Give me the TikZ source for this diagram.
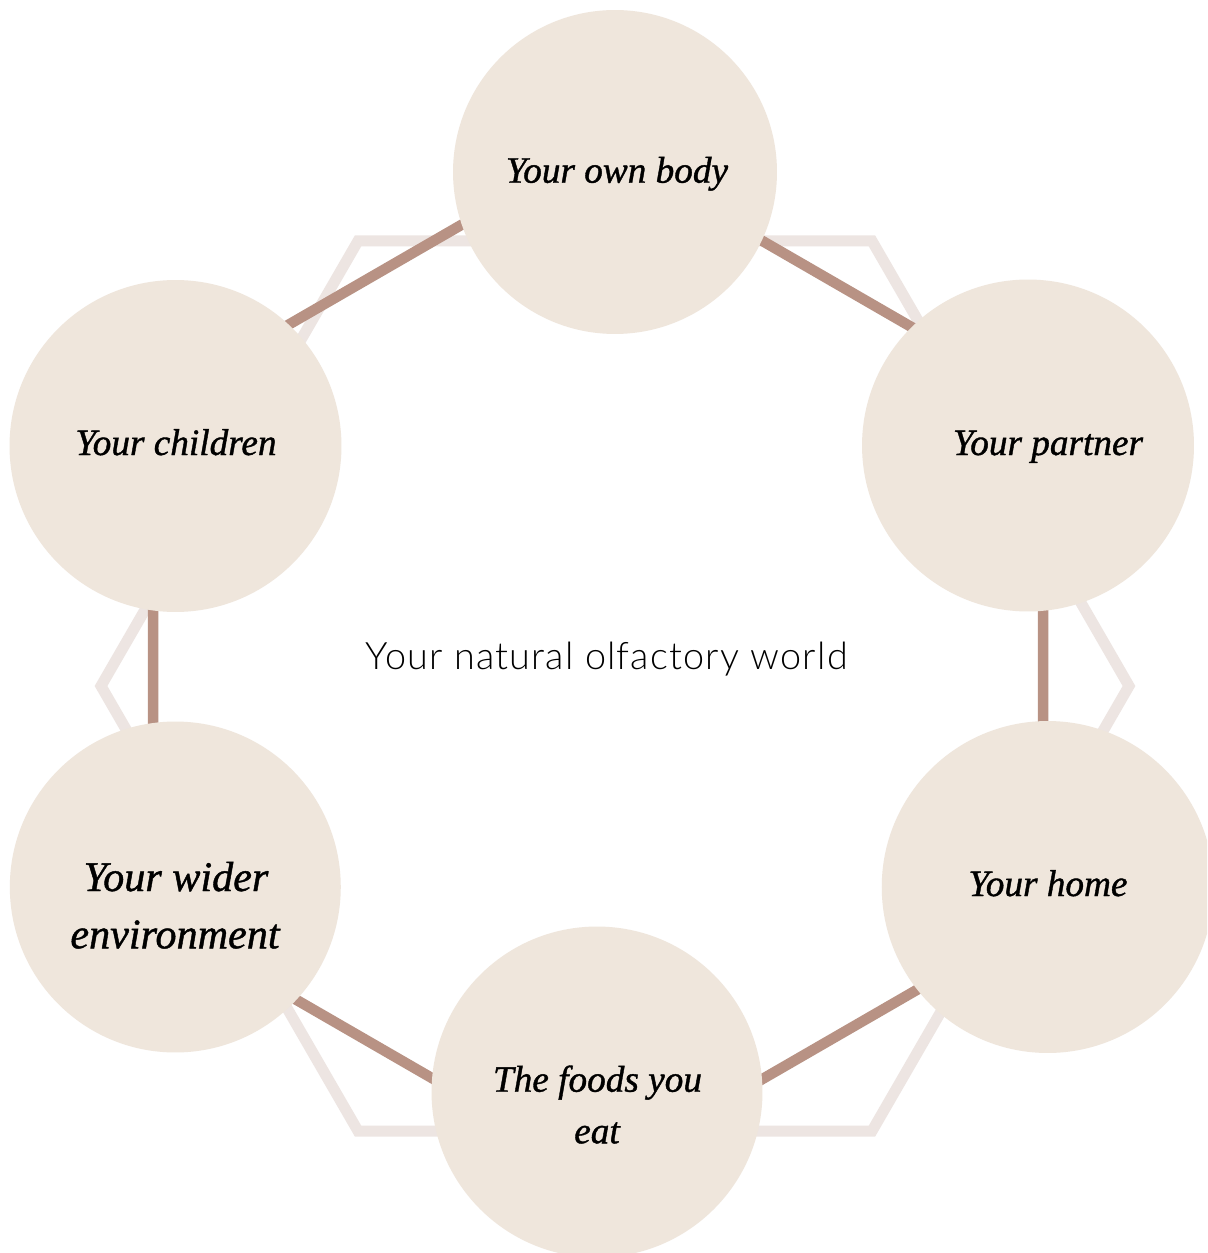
\documentclass[tikz,border=0pt]{standalone}
\usepackage{fontspec}
\newfontfamily\lblfont[ItalicFeatures={FakeBold=1.0}]{Liberation Serif}
\newfontfamily\ctrfont[LetterSpace=3.2]{Lato Light}
\definecolor{circfill}{HTML}{EFE6DC}
\definecolor{brownline}{HTML}{B89284}
\definecolor{lightline}{HTML}{EDE5E2}
\begin{document}
\begin{tikzpicture}[x=0.02cm,y=-0.02cm,
  bubble/.style={circle, fill=circfill, draw=none, inner sep=0pt},
  lbl/.style={font=\lblfont\itshape\fontsize{21.2}{29.5}\selectfont, anchor=base, inner sep=0pt, text=black},
  biglbl/.style={font=\lblfont\itshape\fontsize{24}{32}\selectfont, anchor=base, inner sep=0pt, text=black},
  ctrlbl/.style={font=\ctrfont\fontsize{21.5}{26}\selectfont, anchor=base, inner sep=0pt, text=black},
  lighthex/.style={draw=lightline, line width=0.22cm, line join=miter},
  brownhex/.style={draw=brownline, line width=0.21cm, line join=miter}]
\useasboundingbox (0,0) rectangle (1207,1253);
\clip (0,0) rectangle (1207,1253);
\fill[white] (0,0) rectangle (1207,1253);
% light hexagon (flat top)
\coordinate (L1) at (1129,686);
\coordinate (L2) at (872,241);
\coordinate (L3) at (358,241);
\coordinate (L4) at (101,686);
\coordinate (L5) at (358,1131);
\coordinate (L6) at (872,1131);
\draw[lighthex] (L1) -- (L2) -- (L3) -- (L4) -- (L5) -- (L6) -- cycle;
% brown hexagon (pointy top)
\coordinate (B1) at (598,146);
\coordinate (B2) at (1043,403);
\coordinate (B3) at (1043,917);
\coordinate (B4) at (598,1174);
\coordinate (B5) at (153,917);
\coordinate (B6) at (153,403);
\draw[brownhex] (B1) -- (B2) -- (B3) -- (B4) -- (B5) -- (B6) -- cycle;
% circles
\node[bubble, minimum size=6.48cm] (body) at (615,172) {};
\node[bubble, minimum size=6.64cm] (partner) at (1028,445.5) {};
\node[bubble, minimum size=6.64cm] (home) at (1047.7,887) {};
\node[bubble, minimum size=6.62cm] (foods) at (597,1092) {};
\node[bubble, minimum size=6.62cm] (wider) at (175.3,887) {};
\node[bubble, minimum size=6.64cm] (children) at (175.5,446) {};
% labels
\node[lbl] (tbody) at (617,182.7) {Your own body};
\node[lbl] (tpartner) at (1048,455) {Your partner};
\node[lbl] (thome) at (1048,896) {Your home};
\node[lbl] (tfoodsA) at (597.5,1091.7) {The foods you};
\node[lbl] (tfoodsB) at (597,1143.3) {eat};
\node[biglbl] (twiderA) at (176,891) {Your wider};
\node[biglbl] (twiderB) at (175,948.3) {environment};
\node[lbl] (tchildren) at (176,455) {Your children};
\node[ctrlbl] (center) at (606.5,669) {Your natural olfactory world};
\end{tikzpicture}
\end{document}
